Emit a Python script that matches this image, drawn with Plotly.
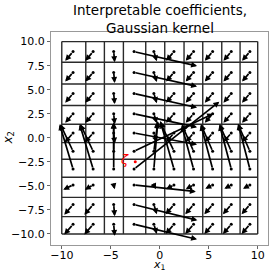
import plotly.graph_objects as go

# --- data ---
x_centers = [-8.85, -6.8, -4.7, -2.62, -0.6, 1.45, 3.45, 5.4, 7.3, 9.2]
y_centers = [8.96, 6.8, 4.6, 2.5, 0.5, -1.4, -3.25, -4.9, -6.95, -9.0]

# u components (rows = y_centers, cols = x_centers)
U = [
    [-0.8, -0.8, 0.1, 6.43, 0.3, -0.8, -0.8, -0.8, -0.8, -0.8],
    [-0.8, -0.8, 0.1, 6.43, 0.3, -0.8, -0.8, -0.8, -0.8, -0.8],
    [-0.8, -0.8, 0.1, 6.43, 0.3, -0.8, -0.8, -0.8, -0.8, -0.8],
    [-0.8, -0.8, 0.1, 6.43, 0.3, -0.8, -0.8, -0.8, -0.8, -0.8],
    [-0.85, -0.85, 0.1, 6.43, 0.3, -0.8, -0.8, -0.8, -0.8, -0.8],
    [-1.3, -1.3, 0.0, 8.06, 0.4, -1.4, -1.2, -1.2, -1.2, -1.2],
    [-1.37, -1.37, 0.0, 8.7, 0.4, -1.4, -1.2, -1.2, -1.2, -1.2],
    [-1.0, -0.85, 0.1, 6.3, 0.2, -0.8, -0.8, -0.75, -0.7, -0.7],
    [-0.9, -0.9, 0.1, 6.46, 0.3, -0.85, -0.85, -0.85, -0.85, -0.85],
    [-0.9, -0.9, 0.1, 6.43, 0.3, -0.85, -0.85, -0.85, -0.85, -0.85],
]
# v components
V = [
    [-0.95, -0.95, -1.1, -1.49, -1.0, -0.95, -0.95, -0.95, -0.95, -0.95],
    [-0.95, -0.95, -1.1, -1.46, -1.0, -0.95, -0.95, -0.95, -0.95, -0.95],
    [-0.95, -0.95, -1.1, -1.46, -1.0, -0.95, -0.95, -0.95, -0.95, -0.95],
    [-0.95, -0.95, -1.1, -1.4, -1.0, -0.95, -0.95, -0.95, -0.95, -0.95],
    [-1.0, -1.0, -1.1, -1.2, -1.0, -0.95, -0.95, -0.95, -0.95, -0.95],
    [2.8, 2.8, 3.0, 3.9, 3.0, 3.0, 2.8, 2.8, 2.8, 2.8],
    [4.65, 4.65, 4.8, 7.0, 5.0, 5.0, 4.5, 4.6, 4.6, 4.7],
    [-0.5, -0.5, -0.45, -0.7, -0.45, -0.45, -0.45, -0.4, -0.4, -0.4],
    [-1.05, -1.05, -1.2, -1.63, -1.0, -1.0, -1.0, -1.0, -1.0, -1.0],
    [-1.05, -1.05, -1.2, -1.56, -1.0, -1.0, -1.0, -1.0, -1.0, -1.0],
]

grid_x = [-10, -7.55, -5.65, -3.71, -1.43, 0.51, 2.48, 4.39, 6.33, 8.2, 10]
grid_y = [10, 7.85, 5.6, 3.35, 1.4, -0.5, -2.24, -4.1, -6.2, -8.2, -10]

zeta_point = (-2.5, -2.5)

x_ticks = [-10, -5, 0, 5, 10]
y_ticks = [-10, -7.5, -5, -2.5, 0, 2.5, 5, 7.5, 10]

title_text = "Interpretable coefficients,<br>Gaussian kernel"


def fmt(v, dec):
    s = f"{abs(v):.{dec}f}"
    return ("\u2212" + s) if v < 0 else s


fig = go.Figure()

# grid lines
gx, gy = [], []
for xv in grid_x:
    gx += [xv, xv, None]
    gy += [grid_y[-1], grid_y[0], None]
for yv in grid_y:
    gx += [grid_x[0], grid_x[-1], None]
    gy += [yv, yv, None]
fig.add_trace(go.Scatter(x=gx, y=gy, mode="lines",
                         line=dict(color="#2a2a2a", width=1.4),
                         hoverinfo="skip", showlegend=False))

# tail dots
tx, ty = [], []
for j, yv in enumerate(y_centers):
    for i, xv in enumerate(x_centers):
        tx.append(xv)
        ty.append(yv)
fig.add_trace(go.Scatter(x=tx, y=ty, mode="markers",
                         marker=dict(color="black", size=3),
                         hoverinfo="skip", showlegend=False))

# zeta point
fig.add_trace(go.Scatter(x=[zeta_point[0]], y=[zeta_point[1]], mode="markers",
                         marker=dict(color="red", size=3),
                         hoverinfo="skip", showlegend=False))

annotations = []
for j, yv in enumerate(y_centers):
    for i, xv in enumerate(x_centers):
        annotations.append(dict(
            x=xv + U[j][i], y=yv + V[j][i], ax=xv, ay=yv,
            xref="x", yref="y", axref="x", ayref="y",
            text="", showarrow=True, arrowhead=2, arrowsize=0.7,
            arrowwidth=1.7, arrowcolor="black", standoff=0, startstandoff=0))

annotations.append(dict(x=zeta_point[0] - 0.4, y=zeta_point[1] + 0.2, xref="x", yref="y",
                        text="<i>ζ</i>", showarrow=False, xanchor="right",
                        font=dict(color="red", size=13, family="DejaVu Sans")))

# title
annotations.append(dict(x=0.5, y=1 + 32 / 213, xref="paper", yref="paper",
                        text=title_text, showarrow=False,
                        xanchor="center", yanchor="top",
                        font=dict(size=13.5, family="DejaVu Sans", color="black")))

annotations.append(dict(x=0.5, y=-20 / 213, xref="paper", yref="paper",
                        text="<i>x</i><sub>1</sub>", showarrow=False,
                        yanchor="middle",
                        font=dict(size=11, family="DejaVu Sans", color="black")))
annotations.append(dict(x=-43 / 217, y=0.5, xref="paper", yref="paper",
                        text="<i>x</i><sub>2</sub>", showarrow=False, textangle=-90,
                        xanchor="center",
                        font=dict(size=12, family="DejaVu Sans", color="black")))

fig.update_layout(
    width=269, height=271,
    margin=dict(l=51, r=1, t=32, b=26, autoexpand=False),
    paper_bgcolor="white", plot_bgcolor="white",
    font=dict(family="DejaVu Sans", size=11, color="black"),
    annotations=annotations,
    xaxis=dict(range=[-11.1, 11.05], tickvals=x_ticks,
               ticktext=[fmt(v, 0) for v in x_ticks],
               showgrid=False, zeroline=False, showline=True, mirror=True,
               linecolor="#999", linewidth=1, ticks="outside", ticklen=3,
               ticklabelstandoff=-3,
               tickcolor="#666", tickfont=dict(size=11)),
    yaxis=dict(range=[-11.15, 11.0], tickvals=y_ticks,
               ticktext=[fmt(v, 1) for v in y_ticks],
               showgrid=False, zeroline=False, showline=True, mirror=True,
               linecolor="#999", linewidth=1, ticks="outside", ticklen=3,
               tickcolor="#666", tickfont=dict(size=11)),
)

fig.write_html("out.html", config={"displayModeBar": False},
               post_script="document.body.style.margin='0';document.body.style.padding='0';")
